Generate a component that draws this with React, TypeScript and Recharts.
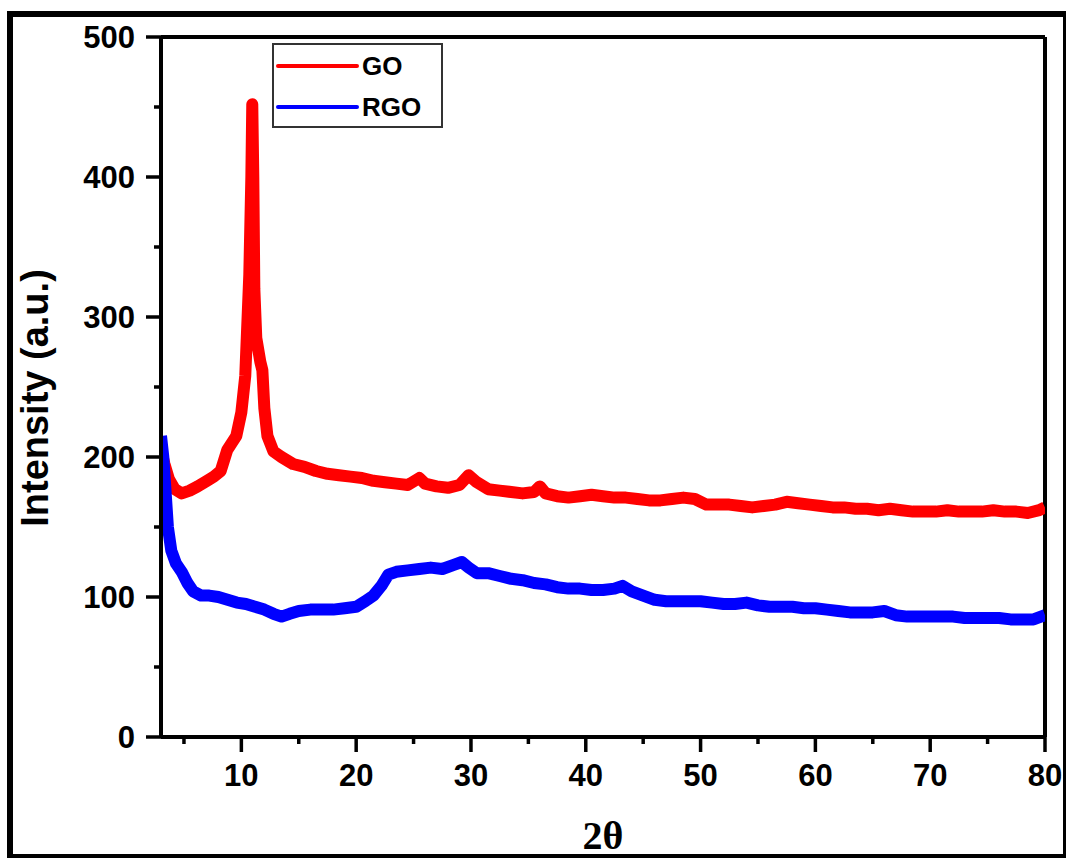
import React from 'react';
import { LineChart, Line, XAxis, YAxis, ReferenceLine, Legend } from 'recharts';

// 2θ (degrees) and intensity (a.u.)
const goTheta = [3.0, 3.3, 3.7, 4.2, 4.8, 5.5, 6.2, 7.0, 7.6, 8.2, 8.77, 9.56, 10.0, 10.34, 10.69, 10.87, 10.95, 11.04, 11.13, 11.3, 11.65, 11.83, 12.0, 12.27, 12.79, 13.49, 14.5, 15.5, 16.5, 17.5, 18.5, 19.5, 20.5, 21.5, 22.5, 23.5, 24.5, 25.5, 26.0, 27.0, 28.0, 29.0, 29.8, 30.5, 31.5, 32.5, 33.5, 34.5, 35.5, 36.0, 36.5, 37.5, 38.5, 39.5, 40.5, 41.5, 42.5, 43.5, 44.5, 45.5, 46.5, 47.5, 48.5, 49.5, 50.5, 51.5, 52.5, 53.5, 54.5, 55.5, 56.5, 57.5, 58.5, 59.5, 60.5, 61.5, 62.5, 63.5, 64.5, 65.5, 66.5, 67.5, 68.5, 69.5, 70.5, 71.5, 72.5, 73.5, 74.5, 75.5, 76.5, 77.5, 78.5, 79.5, 80.0];
const goIntensity = [205, 195, 184, 177, 174, 176, 179, 183, 186, 190, 205, 215, 232, 258, 330, 400, 452, 400, 320, 285, 268, 262, 235, 215, 204, 200, 195, 193, 190, 188, 187, 186, 185, 183, 182, 181, 180, 185, 181, 179, 178, 180, 187, 182, 177, 176, 175, 174, 175, 179, 174, 172, 171, 172, 173, 172, 171, 171, 170, 169, 169, 170, 171, 170, 166, 166, 166, 165, 164, 165, 166, 168, 167, 166, 165, 164, 164, 163, 163, 162, 163, 162, 161, 161, 161, 162, 161, 161, 161, 162, 161, 161, 160, 162, 164];

const rgoTheta = [3.0, 3.2, 3.4, 3.6, 3.9, 4.3, 4.8, 5.3, 5.8, 6.5, 7.2, 8.0, 8.8, 9.6, 10.4, 11.2, 12.0, 12.8, 13.5, 14.2, 15.0, 16.0, 17.0, 18.0, 19.0, 20.0, 20.8, 21.5, 22.2, 22.8, 23.5, 24.5, 25.5, 26.5, 27.5, 28.5, 29.2, 29.8, 30.5, 31.5, 32.5, 33.5, 34.5, 35.5, 36.5, 37.5, 38.5, 39.5, 40.5, 41.5, 42.5, 43.2, 44.0, 45.0, 46.0, 47.0, 48.0, 49.0, 50.0, 51.0, 52.0, 53.0, 54.0, 55.0, 56.0, 57.0, 58.0, 59.0, 60.0, 61.0, 62.0, 63.0, 64.0, 65.0, 66.0, 67.0, 68.0, 69.0, 70.0, 71.0, 72.0, 73.0, 74.0, 75.0, 76.0, 77.0, 78.0, 79.0, 80.0];
const rgoIntensity = [215, 200, 175, 150, 133, 124, 118, 110, 104, 101, 101, 100, 98, 96, 95, 93, 91, 88, 86, 88, 90, 91, 91, 91, 92, 93, 97, 101, 108, 116, 118, 119, 120, 121, 120, 123, 125, 121, 117, 117, 115, 113, 112, 110, 109, 107, 106, 106, 105, 105, 106, 108, 104, 101, 98, 97, 97, 97, 97, 96, 95, 95, 96, 94, 93, 93, 93, 92, 92, 91, 90, 89, 89, 89, 90, 87, 86, 86, 86, 86, 86, 85, 85, 85, 85, 84, 84, 84, 87];

const xTicks = [5, 10, 15, 20, 25, 30, 35, 40, 45, 50, 55, 60, 65, 70, 75, 80];
const yTicks = [0, 50, 100, 150, 200, 250, 300, 350, 400, 450, 500];
const seriesNames = ['GO', 'RGO'];
const seriesColors = ['#ff0000', '#0000ff'];

const goData = goTheta.map((t, i) => ({ theta: t, intensity: goIntensity[i] }));
const rgoData = rgoTheta.map((t, i) => ({ theta: t, intensity: rgoIntensity[i] }));

const FONT = '"Liberation Sans", Arial, sans-serif';

const XTick = (props: any) => {
  const { x, y, payload } = props;
  const major = payload.value % 10 === 0;
  return (
    <g>
      <line x1={x} y1={y} x2={x} y2={y + (major ? 15 : 7)} stroke="#000" strokeWidth={3.5} />
      {major && (
        <text x={x} y={y + 38} textAnchor="middle" dominantBaseline="central" fontFamily={FONT} fontWeight="bold" fontSize={31} fill="#000">
          {payload.value}
        </text>
      )}
    </g>
  );
};

const YTick = (props: any) => {
  const { x, y, payload } = props;
  const major = payload.value % 100 === 0;
  return (
    <g>
      <line x1={x} y1={y} x2={x - (major ? 15 : 7)} y2={y} stroke="#000" strokeWidth={3.5} />
      {major && (
        <text x={x - 26} y={y} textAnchor="end" dominantBaseline="central" fontFamily={FONT} fontWeight="bold" fontSize={31} fill="#000">
          {payload.value}
        </text>
      )}
    </g>
  );
};

const YLabel = (props: any) => {
  const vb = props.viewBox || { x: 61, y: 37, width: 100, height: 700 };
  const cx = vb.x - 26;
  const cy = vb.y + vb.height / 2 + 11;
  return (
    <text x={cx} y={cy} transform={`rotate(-90 ${cx} ${cy})`} textAnchor="middle" dominantBaseline="central" fontFamily={FONT} fontWeight="bold" fontSize={38} fill="#000">
      Intensity (a.u.)
    </text>
  );
};

const XLabel = (props: any) => {
  const vb = props.viewBox || { x: 161, y: 737, width: 884, height: 60 };
  const cx = vb.x + vb.width / 2;
  return (
    <text x={cx} y={vb.y + 112} textAnchor="middle" fontFamily='"Liberation Serif", "Times New Roman", serif' fontWeight="bold" fontSize={40} fill="#000">
      2θ
    </text>
  );
};

const LegendBox = () => (
  <div style={{ width: 171, height: 85, border: '2px solid #333', boxSizing: 'border-box', background: '#fff' }}>
    <svg width={167} height={81} style={{ display: 'block' }}>
      {seriesNames.map((n, i) => (
        <g key={n}>
          <line x1={4} x2={83} y1={21 + i * 41} y2={21 + i * 41} stroke={seriesColors[i]} strokeWidth={4} strokeLinecap="round" />
          <text x={88} y={21 + i * 41} dominantBaseline="central" fontFamily={FONT} fontWeight="bold" fontSize={26} fill="#000">
            {n}
          </text>
        </g>
      ))}
    </svg>
  </div>
);

export default function App() {
  return (
    <div style={{ position: 'absolute', left: 0, top: 0, width: 1066, height: 858, background: '#fff' }}>
      <LineChart width={1066} height={858} margin={{ top: 37, right: 21, bottom: 61, left: 61 }}>
        <XAxis
          dataKey="theta"
          type="number"
          domain={[3, 80]}
          ticks={xTicks}
          interval={0}
          allowDataOverflow
          height={60}
          tickSize={0}
          tickMargin={0}
          tickLine={false}
          tick={<XTick />}
          axisLine={{ stroke: '#000', strokeWidth: 4 }}
          label={<XLabel />}
        />
        <YAxis
          type="number"
          domain={[0, 500]}
          ticks={yTicks}
          interval={0}
          allowDataOverflow
          width={100}
          tickSize={0}
          tickMargin={0}
          tickLine={false}
          tick={<YTick />}
          axisLine={{ stroke: '#000', strokeWidth: 4 }}
          label={<YLabel />}
        />
        <ReferenceLine y={500} stroke="#000" strokeWidth={4} />
        <ReferenceLine x={80} stroke="#000" strokeWidth={4} />
        <Line data={goData} dataKey="intensity" name="GO" stroke={seriesColors[0]} strokeWidth={12} strokeLinejoin="round" dot={false} isAnimationActive={false} type="linear" />
        <Line data={rgoData} dataKey="intensity" name="RGO" stroke={seriesColors[1]} strokeWidth={12} strokeLinejoin="round" dot={false} isAnimationActive={false} type="linear" />
        <Legend
          layout="vertical"
          align="center"
          verticalAlign="middle"
          content={<LegendBox />}
          wrapperStyle={{ position: 'absolute', left: 272, top: 43, width: 171, height: 85 }}
        />
      </LineChart>
      <div style={{ position: 'absolute', left: 7, top: 11, width: 6, height: 847, background: '#000' }} />
      <div style={{ position: 'absolute', left: 7, top: 11, width: 1059, height: 6, background: '#000' }} />
      <div style={{ position: 'absolute', left: 1063, top: 11, width: 3, height: 847, background: '#000' }} />
      <div style={{ position: 'absolute', left: 7, top: 854, width: 1059, height: 4, background: '#000' }} />
    </div>
  );
}
